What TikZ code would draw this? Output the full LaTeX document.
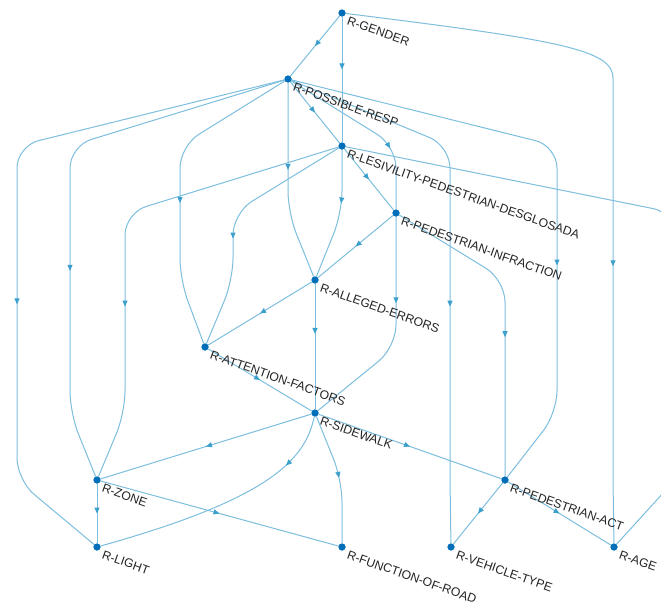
\documentclass[tikz,border=0pt]{standalone}
\usepackage{fontspec}
\setmainfont{Liberation Sans}
\usetikzlibrary{arrows.meta,decorations.markings}
\definecolor{edgeblue}{RGB}{125,190,222}
\definecolor{tipblue}{RGB}{60,160,205}
\definecolor{nodeblue}{RGB}{0,110,185}
\definecolor{labelgray}{RGB}{35,35,35}
\tikzset{
  dot/.style={circle,fill=nodeblue,inner sep=0pt,minimum size=7pt},
  lbl/.style={anchor=north west,inner sep=0pt,rotate=-19.5,text=labelgray,
    font=\fontsize{12.2}{13}\selectfont},
  link/.style={draw=edgeblue,line width=1pt,rounded corners=22pt},
  tipat/.style={postaction={decorate},decoration={markings,
    mark=at position #1 with {\arrow[tipblue]{Triangle[length=6pt,width=5pt]}}}},
}
\begin{document}
\begin{tikzpicture}[x=1pt,y=-1pt]
\useasboundingbox (0,0) rectangle (661,605);
\fill[white] (0,0) rectangle (661,605);
\clip (0,0) rectangle (661,605);

% graph vertices, one row per layer
\node[dot] (G)  at (342,13)  {};
\node[dot] (PR) at (288,79)  {};
\node[dot] (LE) at (342,146) {};
\node[dot] (PI) at (396,213) {};
\node[dot] (AE) at (315,280) {};
\node[dot] (AF) at (205,347) {};
\node[dot] (SW) at (315,413) {};
\node[dot] (ZO) at (97,480)  {};
\node[dot] (PA) at (505,480) {};
\node[dot] (LI) at (97,547)  {};
\node[dot] (FR) at (342,547) {};
\node[dot] (VT) at (451,547) {};
\node[dot] (AG) at (614,547) {};

% directed edges (multi-layer ones routed through columns)
\path[link,tipat=0.5]  (G) -- (PR);
\path[link,tipat=0.42] (G) -- (LE);
\path[link,tipat=0.63] (G) .. controls (560,40) and (613,50) .. (613,100) -- (613,480) -- (AG);
\path[link,tipat=0.5]  (PR) -- (LE);
\path[link,tipat=0.61] (PR) -- (17,146) -- (17,480) -- (LI);
\path[link,tipat=0.62] (PR) -- (70,146) -- (70,413) -- (ZO);
\path[link,tipat=0.55] (PR) -- (180,146) -- (180,280) -- (AF);
\path[link,tipat=0.44] (PR) -- (288,213) -- (AE);
\path[link,tipat=0.66] (PR) -- (396,146) -- (PI);
\path[link,tipat=0.58] (PR) -- (450,146) -- (450,480) -- (VT);
\path[link,tipat=0.63] (PR) -- (557,146) -- (557,413) -- (PA);
\path[link,tipat=0.5]  (LE) -- (PI);
\path[link,tipat=0.41] (LE) -- (342,213) -- (AE);
\path[link,tipat=0.57] (LE) -- (233,213) -- (233,280) -- (AF);
\path[link,tipat=0.64] (LE) -- (125,213) -- (125,413) -- (ZO);
\path[link,tipat=0.6]  (LE) -- (675,213) -- (675,480) -- (AG);
\path[link,tipat=0.5]  (PI) -- (AE);
\path[link,tipat=0.56] (PI) -- (505,280) -- (PA);
\path[link,tipat=0.38] (PI) -- (396,347) -- (SW);
\path[link,tipat=0.5]  (AE) -- (AF);
\path[link,tipat=0.4]  (AE) -- (SW);
\path[link,tipat=0.5]  (AF) -- (SW);
\path[link,tipat=0.5]  (SW) -- (ZO);
\path[link,tipat=0.5]  (SW) -- (PA);
\path[link,tipat=0.5]  (SW) -- (342,480) -- (FR);
\path[link,tipat=0.22] (SW) .. controls (305,462) and (265,500) .. (LI);
\path[link,tipat=0.5]  (ZO) -- (LI);
\path[link,tipat=0.5]  (ZO) -- (FR);
\path[link,tipat=0.5]  (PA) -- (VT);
\path[link,tipat=0.5]  (PA) -- (AG);

% redraw vertices above the edges
\foreach \v in {G,PR,LE,PI,AE,AF,SW,ZO,PA,LI,FR,VT,AG}
  \fill[nodeblue] (\v) circle (3.5pt);

% vertex labels
\node[lbl] at ([shift={(7,3)}]G.center)  {R-GENDER};
\node[lbl] at ([shift={(7,3)}]PR.center) {R-POSSIBLE-RESP};
\node[lbl] at ([shift={(7,3)}]LE.center) {R-LESIVILITY-PEDESTRIAN-DESGLOSADA};
\node[lbl] at ([shift={(7,3)}]PI.center) {R-PEDESTRIAN-INFRACTION};
\node[lbl] at ([shift={(7,3)}]AE.center) {R-ALLEGED-ERRORS};
\node[lbl] at ([shift={(7,3)}]AF.center) {R-ATTENTION-FACTORS};
\node[lbl] at ([shift={(7,3)}]SW.center) {R-SIDEWALK};
\node[lbl] at ([shift={(7,3)}]ZO.center) {R-ZONE};
\node[lbl] at ([shift={(7,3)}]PA.center) {R-PEDESTRIAN-ACT};
\node[lbl] at ([shift={(7,3)}]LI.center) {R-LIGHT};
\node[lbl] at ([shift={(7,3)}]FR.center) {R-FUNCTION-OF-ROAD};
\node[lbl] at ([shift={(7,3)}]VT.center) {R-VEHICLE-TYPE};
\node[lbl] at ([shift={(7,3)}]AG.center) {R-AGE};
\end{tikzpicture}
\end{document}
